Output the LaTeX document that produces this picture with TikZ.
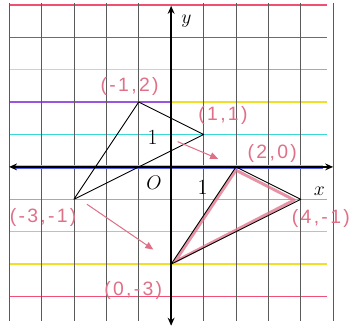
\documentclass[tikz,border=0pt]{standalone}
\usepackage{fontspec}
\usetikzlibrary{arrows.meta,calc}
\newfontfamily\handfont[LetterSpace=12]{Liberation Sans}
\definecolor{penred}{RGB}{224,112,135}
\definecolor{lnred}{RGB}{240,80,115}
\definecolor{lnpurple}{RGB}{155,85,220}
\definecolor{lnblue}{RGB}{85,95,235}
\definecolor{lncyan}{RGB}{60,215,215}
\definecolor{lnyellow}{RGB}{240,222,40}
\definecolor{lngray}{RGB}{90,90,90}
\begin{document}
\begin{tikzpicture}[x=1cm,y=1cm,
  vline/.style={draw=lngray,line width=0.6pt},
  hline/.style={line width=1.3pt},
  axis/.style={line width=1.4pt,black,{Stealth[length=7pt,width=6pt]}-{Stealth[length=7pt,width=6pt]}},
  tri/.style={line width=0.8pt,black,line join=round},
  pink/.style={line width=2.6pt,penred,opacity=0.75,line join=round},
  penarrow/.style={line width=0.9pt,penred,-{Triangle[length=7pt,width=6pt]}},
  hand/.style={text=penred,font=\handfont\fontsize{17}{19}\selectfont,inner sep=0pt},
  lbl/.style={font=\fontsize{19}{21}\selectfont,inner sep=0pt}
]
\useasboundingbox[fill=white] (-5.28,-5.04) rectangle (5.55,5.15);
% vertical grid lines
\foreach \x in {-5,...,5}{
  \ifnum\x=0\else
  \draw[vline] (\x,5.05) -- (\x,-4.75);
  \fi
}
% horizontal ruled lines (notebook colours)
\draw[hline,lnred] (-5,5) -- (4.8,5);
\draw[hline,lnblue] (-5,4) -- (4.8,4);
\draw[hline,lnyellow] (-5,3) -- (0,3);
\draw[hline,lncyan] (0,3) -- (4.8,3);
\draw[hline,lnpurple] (-5,2) -- (0,2);
\draw[hline,lnyellow] (0,2) -- (4.8,2);
\draw[hline,lncyan] (-5,1) -- (4.8,1);
\draw[hline,lncyan] (-5,-1) -- (4.8,-1);
\draw[hline,lnyellow!60!lncyan] (-5,-2) -- (4.8,-2);
\draw[hline,lnyellow] (-5,-3) -- (4.8,-3);
\draw[hline,lnred] (-5,-4) -- (4.8,-4);
\foreach \x in {-5,...,5}{
  \ifnum\x=0\else
  \draw[vline] (\x,5.05) -- (\x,-4.75);
  \fi
}
% x-axis colour tints
\draw[line width=1pt,lnyellow!70!orange] (-4.8,0.05) -- (4.7,0.05);
\draw[line width=1pt,lnblue] (-4.8,-0.05) -- (4.7,-0.05);
% axes
\coordinate (xl) at (-5,0);
\coordinate (xr) at (5,0);
\coordinate (yt) at (0,4.97);
\coordinate (yb) at (0,-4.9);
\draw[axis] (xl) -- (xr);
\draw[axis] (yb) -- (yt);
\node[lbl] (xlab) at (4.57,-0.75) {$x$};
\node[lbl] (ylab) at (0.47,4.5) {$y$};
\node[lbl] (olab) at (-0.53,-0.5) {$O$};
\node[lbl] (one1) at (-0.57,0.9) {1};
\node[lbl] (one2) at (0.97,-0.63) {1};
% original triangle
\coordinate (A) at (-1,2);
\coordinate (B) at (1,1);
\coordinate (C) at (-3,-1);
\draw[tri] (A) -- (B) -- (C) -- cycle;
% image triangle
\coordinate (A2) at (2,0);
\coordinate (B2) at (4,-1);
\coordinate (C2) at (0,-3);
\draw[pink] ($(A2)+(0,-0.1)$) -- ($(B2)+(-0.2,-0.02)$) -- ($(C2)+(0.12,0.08)$) -- cycle;
\draw[tri] (A2) -- (B2) -- (C2) -- cycle;
% handwritten labels
\node[hand] (lA) at (-1.28,2.48) {(-1,2)};
\node[hand] (lB) at (1.6,1.6) {(1,1)};
\node[hand] (lA2) at (3.12,0.4) {(2,0)};
\node[hand] (lB2) at (4.62,-1.6) {(4,-1)};
\node[hand] (lC) at (-3.95,-1.55) {(-3,-1)};
\node[hand] (lC2) at (-1.17,-3.8) {(0,-3)};
% rotation arrows
\coordinate (p1) at (0.2,0.78);
\coordinate (q1) at (1.45,0.25);
\coordinate (p2) at (-2.6,-1.15);
\coordinate (q2) at (-0.55,-2.55);
\draw[penarrow] (p1) -- (q1);
\draw[penarrow] (p2) -- (q2);
\end{tikzpicture}
\end{document}
